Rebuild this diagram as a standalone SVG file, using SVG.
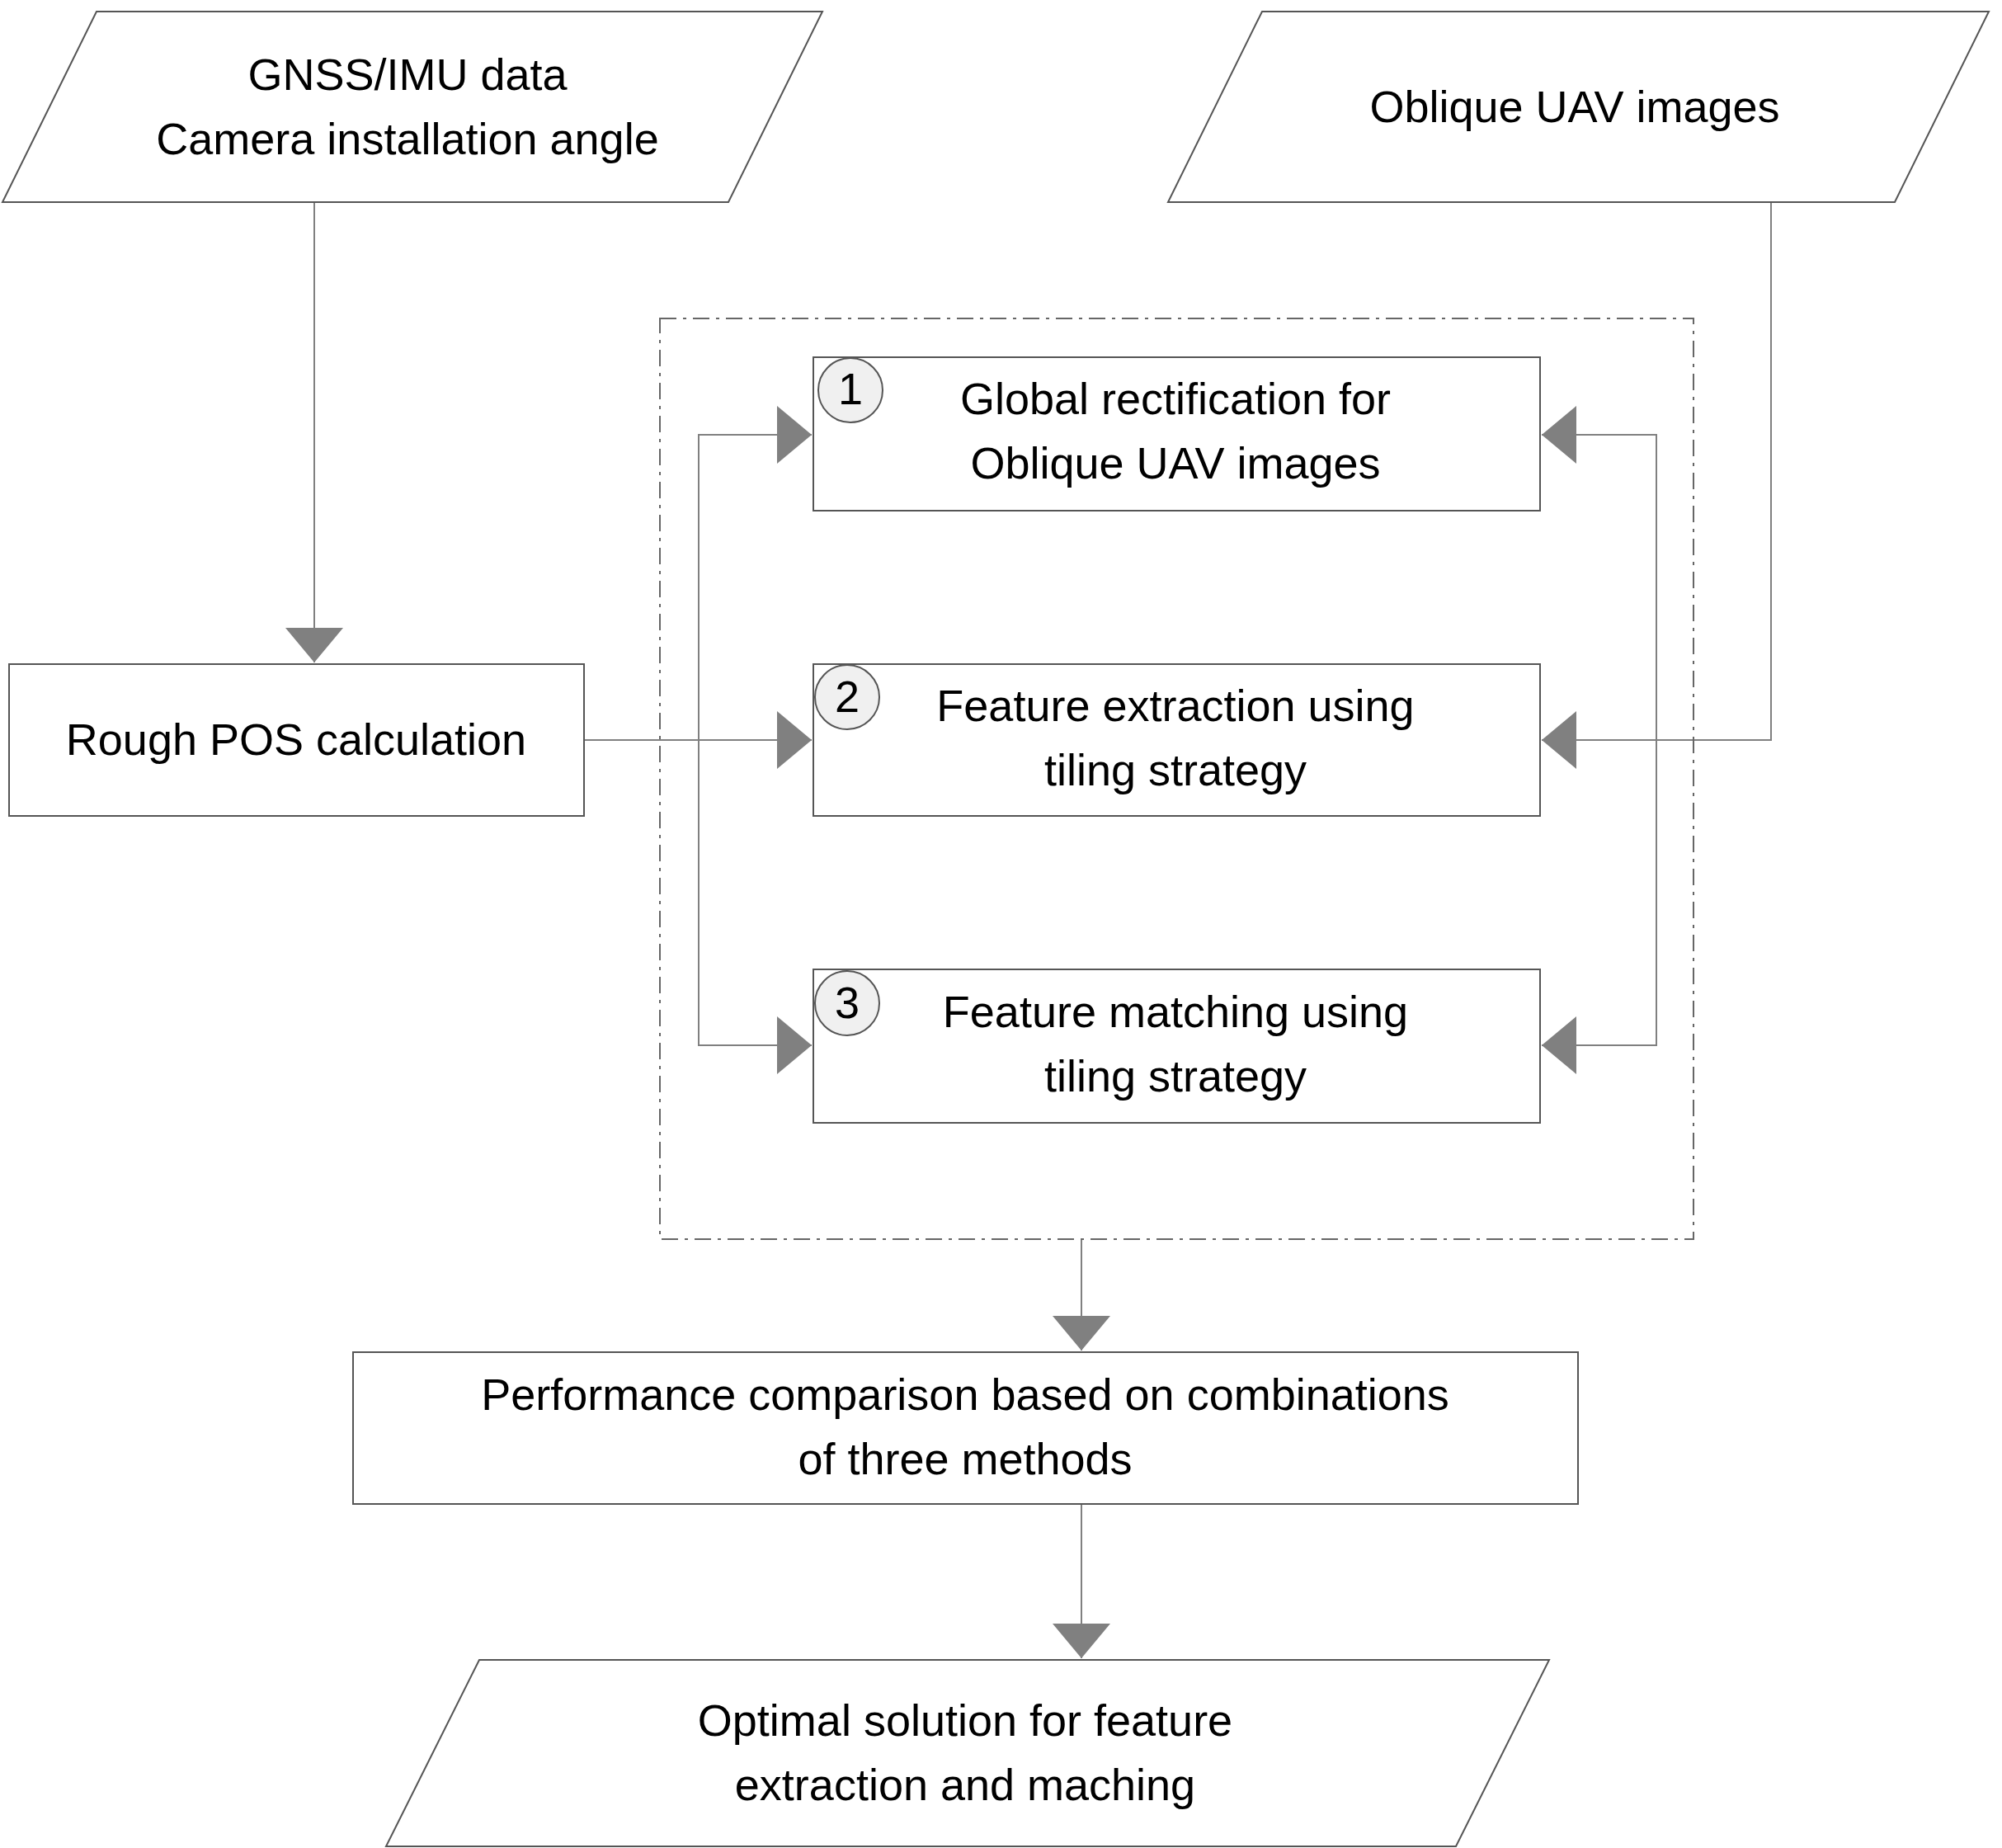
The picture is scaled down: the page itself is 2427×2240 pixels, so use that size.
<svg xmlns="http://www.w3.org/2000/svg" width="2427" height="2240" viewBox="0 0 2427 2240">
<style>
.n{fill:#fff;stroke:#555;stroke-width:2}
.t{font-family:"Liberation Sans",Arial,sans-serif;font-size:54px;fill:#000;text-anchor:middle}
.c{stroke:#808080;stroke-width:2;fill:none}
.ci{fill:#f0f0f0;stroke:#555;stroke-width:2}
</style>
<defs>
<marker id="a" markerUnits="userSpaceOnUse" markerWidth="44" markerHeight="70" refX="42" refY="35" orient="auto"><path d="M0,0 L42,35 L0,70 Z" fill="#808080"/></marker>
</defs>
<rect width="2427" height="2240" fill="#fff"/>
<g id="connectors">
<path class="c" d="M381,245 V803" marker-end="url(#a)"/>
<path class="c" d="M708,897 H984" marker-end="url(#a)"/>
<path class="c" d="M984,527 H847 V1267 H984" marker-end="url(#a)"/>
<path class="c" d="M847,527 H984" marker-end="url(#a)"/>
<path class="c" d="M1869,527 H2008 V1267 H1869" marker-end="url(#a)"/>
<path class="c" d="M2008,527 H1869" marker-end="url(#a)"/>
<path class="c" d="M2147,245 V897 H1869" marker-end="url(#a)"/>
<path class="c" d="M1311,1502 V1637" marker-end="url(#a)"/>
<path class="c" d="M1311,1823 V2010" marker-end="url(#a)"/>
</g>
<g id="group"><rect x="800" y="386" width="1253" height="1116" fill="none" stroke="#666" stroke-width="2" stroke-dasharray="20,8,4,8"/></g>
<g id="gnss"><polygon class="n" points="117,14 997,14 883,245 3,245"/><text class="t" x="494" y="109">GNSS/IMU data</text><text class="t" x="494" y="187">Camera installation angle</text></g>
<g id="oblique"><polygon class="n" points="1530,14 2411,14 2297,245 1416,245"/><text class="t" x="1909" y="148">Oblique UAV images</text></g>
<g id="rough"><rect class="n" x="11" y="805" width="697" height="184"/><text class="t" x="359" y="915">Rough POS calculation</text></g>
<g id="box1"><rect class="n" x="986" y="433" width="881" height="186"/><circle class="ci" cx="1031" cy="473" r="39"/><text class="t" x="1031" y="490">1</text><text class="t" x="1425" y="502">Global rectification for</text><text class="t" x="1425" y="580">Oblique UAV images</text></g>
<g id="box2"><rect class="n" x="986" y="805" width="881" height="184"/><circle class="ci" cx="1027" cy="845" r="39"/><text class="t" x="1027" y="863">2</text><text class="t" x="1425" y="874">Feature extraction using</text><text class="t" x="1425" y="952">tiling strategy</text></g>
<g id="box3"><rect class="n" x="986" y="1175" width="881" height="186"/><circle class="ci" cx="1027" cy="1216" r="39"/><text class="t" x="1027" y="1234">3</text><text class="t" x="1425" y="1245">Feature matching using</text><text class="t" x="1425" y="1323">tiling strategy</text></g>
<g id="perf"><rect class="n" x="428" y="1639" width="1485" height="184"/><text class="t" x="1170" y="1709">Performance comparison based on combinations</text><text class="t" x="1170" y="1787">of three methods</text></g>
<g id="optimal"><polygon class="n" points="581,2012 1878,2012 1765,2238 468,2238"/><text class="t" x="1170" y="2104">Optimal solution for feature</text><text class="t" x="1170" y="2182">extraction and maching</text></g>
</svg>
